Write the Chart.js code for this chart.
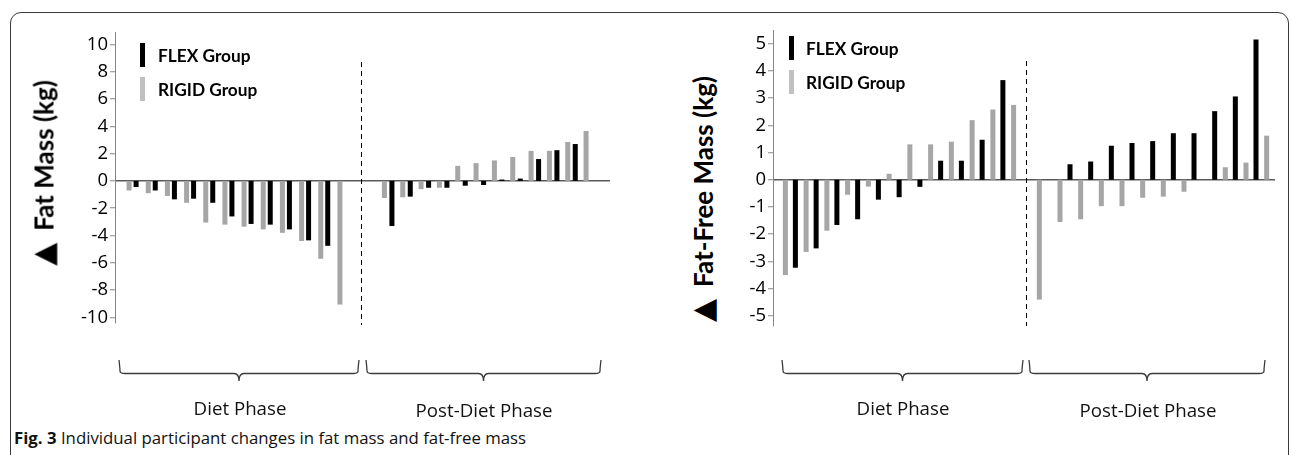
<!DOCTYPE html>
<html lang="en">
<head>
<meta charset="utf-8">
<title>Fig. 3</title>
<script src="https://cdn.jsdelivr.net/npm/chart.js@4.4.1/dist/chart.umd.min.js"></script>
<style>
  body { margin: 0; width: 1292px; height: 455px; overflow: hidden; background: #fff; color: #000; font-family: 'Open Sans', sans-serif; }
  .marco { position: absolute; left: 10px; top: 12px; width: 1277px; height: 520px; border: 1.5px solid #3a3a3a; border-radius: 11px; }
  canvas { position: absolute; }
  .titulo-y { position: absolute; white-space: nowrap; font: bold 26px Lato, sans-serif; transform: translate(-50%, -50%) rotate(-90deg); }
  .titulo-y .tri { font-family: 'DejaVu Sans', sans-serif; font-size: 30px; margin-right: 12px; }
  .leyenda { position: absolute; white-space: nowrap; font: bold 17.3px Lato, sans-serif; transform: translateY(-50%); }
  .barra-ley { position: absolute; width: 5px; height: 24px; }
  .fase { position: absolute; white-space: nowrap; font: 18.7px 'Open Sans', sans-serif; transform: translate(-50%, -50%); color: #111; }
  .pie { position: absolute; left: 14px; top: 437px; white-space: nowrap; font: 16.8px 'Open Sans', sans-serif; transform: translateY(-50%); color: #111; }
</style>
</head>
<body>
<div class="marco"></div>
<div class="pie"><b>Fig. 3</b> Individual participant changes in fat mass and fat-free mass</div>

<script>
// Participantes (ordenados de menor a mayor cambio)
const participantes = ['1', '2', '3', '4', '5', '6', '7', '8', '9', '10', '11', '12'];

// Etiquetas de los ejes Y
const ticksGrasa = [-10, -8, -6, -4, -2, 0, 2, 4, 6, 8, 10];
const ticksMagra = [-5, -4, -3, -2, -1, 0, 1, 2, 3, 4, 5];

// Cambio en masa grasa (kg)
const grasaDietaRigid = [-0.7, -0.9, -1.1, -1.6, -3.05, -3.2, -3.35, -3.55, -3.8, -4.4, -5.7, -9.05];
const grasaDietaFlex  = [-0.45, -0.7, -1.35, -1.3, -1.6, -2.6, -3.15, -3.2, -3.55, -4.35, -4.75, null];
const grasaPostRigid  = [-1.25, -1.2, -0.6, -0.5, 1.1, 1.3, 1.5, 1.75, 2.2, 2.2, 2.85, 3.65];
const grasaPostFlex   = [-3.3, -1.15, -0.5, -0.5, -0.35, -0.3, 0.1, 0.17, 1.6, 2.25, 2.7, null];

// Cambio en masa libre de grasa (kg)
const magraDietaRigid = [-3.5, -2.65, -1.87, -0.55, -0.25, 0.22, 1.3, 1.3, 1.4, 2.19, 2.58, 2.75];
const magraDietaFlex  = [-3.23, -2.52, -1.66, -1.45, -0.73, -0.64, -0.26, 0.7, 0.7, 1.47, 3.66, null];
const magraPostRigid  = [-4.4, -1.55, -1.45, -0.97, -0.97, -0.66, -0.62, -0.44, null, 0.46, 0.63, 1.62];
const magraPostFlex   = [null, 0.57, 0.67, 1.25, 1.35, 1.42, 1.71, 1.71, 2.52, 3.06, 5.15, null];

const COLOR_FLEX = '#000000';
const COLOR_RIGID = '#a6a6a6';
const COLOR_RIGID_LEYENDA = '#c0c0c0';
const ALTO_MARCO = 395;

const paneles = [
  {
    titulo: 'Fat Mass (kg)', tituloX: 43, tituloY: 173,
    ticks: ticksGrasa, min: -10.4, max: 10.9,
    marco: { left: 60, width: 560, top: 32, bottom: 323, eje: 115, fin: 610 },
    dieta: { left: 123, width: 230, cat: 0.73, bar: 0.714, rigid: grasaDietaRigid, flex: grasaDietaFlex },
    post: { left: 379, width: 220, cat: 0.82, bar: 0.667, rigid: grasaPostRigid, flex: grasaPostFlex },
    guion: { x: 361.5, y0: 62, y1: 325 },
    llaves: [[120, 358], [367, 600]],
    fases: [[240, 407, 'Diet Phase'], [484, 409, 'Post-Diet Phase']],
    leyenda: { x: 140, texto: 158, flex: 43, rigid: 77 }
  },
  {
    titulo: 'Fat-Free Mass (kg)', tituloX: 702, tituloY: 199,
    ticks: ticksMagra, min: -5.37, max: 5.5,
    marco: { left: 720, width: 565, top: 30, bottom: 326, eje: 773, fin: 1275 },
    dieta: { left: 780, width: 249, cat: 0.966, bar: 0.5, rigid: magraDietaRigid, flex: magraDietaFlex },
    post: { left: 1034, width: 248, cat: 0.97, bar: 0.5, rigid: magraPostRigid, flex: magraPostFlex },
    guion: { x: 1026.5, y0: 61, y1: 326 },
    llaves: [[783, 1022], [1030, 1264]],
    fases: [[903, 407, 'Diet Phase'], [1148, 409, 'Post-Diet Phase']],
    leyenda: { x: 789, texto: 806, flex: 36, rigid: 70 }
  }
];

function nuevoCanvas(left, top, width, height) {
  const canvas = document.createElement('canvas');
  canvas.width = width;
  canvas.height = height;
  canvas.style.left = left + 'px';
  canvas.style.top = top + 'px';
  document.body.appendChild(canvas);
  return canvas;
}

// llave horizontal bajo cada fase
function dibujarLlave(ctx, x0, x1, yTop, yMid, yTip) {
  const xm = (x0 + x1) / 2;
  const r = 5;
  ctx.beginPath();
  ctx.moveTo(x0 - 1, yTop);
  ctx.quadraticCurveTo(x0, yMid - r, x0, yMid - r / 2);
  ctx.quadraticCurveTo(x0, yMid, x0 + r, yMid);
  ctx.lineTo(xm - 5, yMid);
  ctx.quadraticCurveTo(xm, yMid, xm, yTip);
  ctx.quadraticCurveTo(xm, yMid, xm + 5, yMid);
  ctx.lineTo(x1 - r, yMid);
  ctx.quadraticCurveTo(x1, yMid, x1, yMid - r / 2);
  ctx.quadraticCurveTo(x1, yMid - r, x1 + 1, yTop);
  ctx.stroke();
}

function decoracion(p) {
  return {
    id: 'decoracion',
    afterDraw(chart) {
      const ctx = chart.ctx;
      const dx = p.marco.left;
      ctx.save();
      // separador entre fases
      ctx.strokeStyle = '#000';
      ctx.lineWidth = 1;
      ctx.setLineDash([5, 4]);
      ctx.beginPath();
      ctx.moveTo(p.guion.x - dx, p.guion.y0);
      ctx.lineTo(p.guion.x - dx, p.guion.y1);
      ctx.stroke();
      ctx.setLineDash([]);
      // llaves
      ctx.strokeStyle = '#3c3c3c';
      ctx.lineWidth = 1.3;
      p.llaves.forEach(([a, b]) => dibujarLlave(ctx, a - dx, b - dx, 360, 373.5, 381));
      ctx.restore();
    }
  };
}

function crearMarco(p) {
  const m = p.marco;
  const canvas = nuevoCanvas(m.left, 0, m.width, ALTO_MARCO);
  new Chart(canvas, {
    type: 'bar',
    data: { labels: [], datasets: [] },
    options: {
      responsive: false,
      animation: false,
      layout: { padding: { top: m.top, bottom: ALTO_MARCO - m.bottom, right: m.left + m.width - m.fin, left: 0 } },
      plugins: { legend: { display: false }, tooltip: { enabled: false } },
      scales: {
        x: { display: false },
        y: {
          min: p.min,
          max: p.max,
          afterFit: (s) => { s.width = m.eje - m.left; },
          afterBuildTicks: (s) => { s.ticks = p.ticks.map(v => ({ value: v })); },
          border: { display: true, color: '#868686', width: 1 },
          grid: {
            color: (c) => (c.tick && c.tick.value === 0) ? '#5a5a5a' : 'rgba(0,0,0,0)',
            lineWidth: 1.5,
            tickColor: '#868686',
            tickWidth: 1,
            tickLength: 5
          },
          ticks: { font: { family: 'Open Sans', size: 18.5 }, color: '#000', padding: 2 }
        }
      }
    },
    plugins: [decoracion(p)]
  });
}

function crearBarras(p, fase) {
  const m = p.marco;
  const canvas = nuevoCanvas(fase.left, m.top, fase.width, m.bottom - m.top);
  new Chart(canvas, {
    type: 'bar',
    data: {
      labels: participantes,
      datasets: [
        { label: 'RIGID Group', data: fase.rigid, backgroundColor: COLOR_RIGID, categoryPercentage: fase.cat, barPercentage: fase.bar },
        { label: 'FLEX Group', data: fase.flex, backgroundColor: COLOR_FLEX, categoryPercentage: fase.cat, barPercentage: fase.bar }
      ]
    },
    options: {
      responsive: false,
      animation: false,
      layout: { padding: 0 },
      plugins: { legend: { display: false }, tooltip: { enabled: false } },
      scales: {
        x: { display: false },
        y: { display: false, min: p.min, max: p.max }
      }
    }
  });
}

function crearTextos(p) {
  const t = document.createElement('div');
  t.className = 'titulo-y';
  t.style.left = p.tituloX + 'px';
  t.style.top = p.tituloY + 'px';
  t.innerHTML = '<span class="tri">\u25B2</span>' + p.titulo;
  document.body.appendChild(t);

  // leyenda
  const items = [
    ['FLEX Group', COLOR_FLEX, p.leyenda.flex],
    ['RIGID Group', COLOR_RIGID_LEYENDA, p.leyenda.rigid]
  ];
  items.forEach(([texto, color, y]) => {
    const b = document.createElement('div');
    b.className = 'barra-ley';
    b.style.left = p.leyenda.x + 'px';
    b.style.top = y + 'px';
    b.style.background = color;
    document.body.appendChild(b);
    const l = document.createElement('div');
    l.className = 'leyenda';
    l.style.left = p.leyenda.texto + 'px';
    l.style.top = (y + 12) + 'px';
    l.textContent = texto;
    document.body.appendChild(l);
  });

  p.fases.forEach(([x, y, texto]) => {
    const f = document.createElement('div');
    f.className = 'fase';
    f.style.left = x + 'px';
    f.style.top = y + 'px';
    f.textContent = texto;
    document.body.appendChild(f);
  });
}

paneles.forEach(p => {
  crearMarco(p);
  crearBarras(p, p.dieta);
  crearBarras(p, p.post);
  crearTextos(p);
});
</script>
</body>
</html>
